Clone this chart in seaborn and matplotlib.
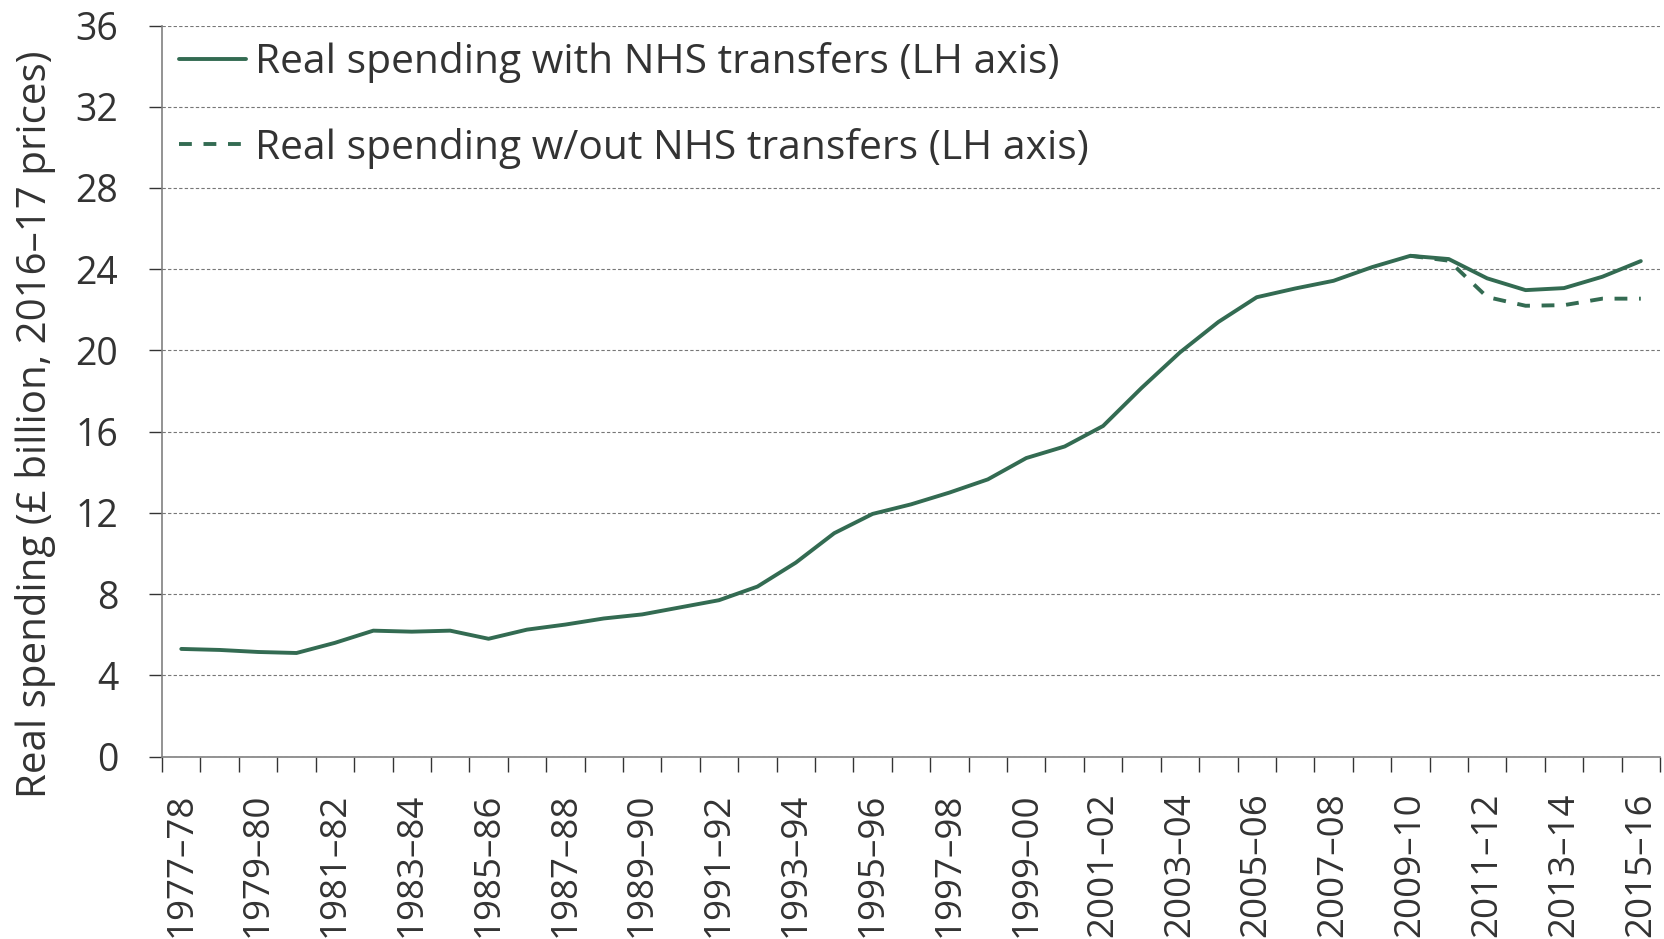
import pandas as pd
import matplotlib.pyplot as plt
import seaborn as sns

# financial years (category axis)
years = ["1977–78", "1978–79", "1979–80", "1980–81", "1981–82", "1982–83",
         "1983–84", "1984–85", "1985–86", "1986–87", "1987–88", "1988–89",
         "1989–90", "1990–91", "1991–92", "1992–93", "1993–94", "1994–95",
         "1995–96", "1996–97", "1997–98", "1998–99", "1999–00", "2000–01",
         "2001–02", "2002–03", "2003–04", "2004–05", "2005–06", "2006–07",
         "2007–08", "2008–09", "2009–10", "2010–11", "2011–12", "2012–13",
         "2013–14", "2014–15", "2015–16"]

# real spending, £ billion (2016-17 prices)
with_nhs = [5.3, 5.25, 5.15, 5.1, 5.6, 6.2, 6.15, 6.2, 5.8, 6.25,
            6.5, 6.8, 7.0, 7.35, 7.7, 8.37, 9.55, 11.0, 11.95, 12.42,
            13.0, 13.65, 14.7, 15.27, 16.28, 18.15, 19.9, 21.4, 22.62, 23.05,
            23.43, 24.1, 24.66, 24.5, 23.55, 22.97, 23.07, 23.63, 24.4]

without_years = ["2009–10", "2010–11", "2011–12", "2012–13", "2013–14",
                 "2014–15", "2015–16"]
without_nhs = [24.66, 24.42, 22.63, 22.2, 22.23, 22.55, 22.55]

yticks = [0, 4, 8, 12, 16, 20, 24, 28, 32, 36]

label_with = "Real spending with NHS transfers (LH axis)"
label_without = "Real spending w/out NHS transfers (LH axis)"

df_with = pd.DataFrame({"year": years, "value": with_nhs})
df_without = pd.DataFrame({"year": without_years, "value": without_nhs})
df_with["pos"] = range(len(years))
df_without["pos"] = [years.index(y) for y in without_years]

sns.set_style("white")
plt.rcParams["font.family"] = ["Open Sans", "DejaVu Sans"]
plt.rcParams["text.color"] = "#333333"

green = "#336b52"

fig, ax = plt.subplots(figsize=(16.64, 9.39), dpi=100)
fig.subplots_adjust(left=0.0974, right=0.9976, top=0.9728, bottom=0.1943)

sns.lineplot(data=df_with, x="pos", y="value", color=green, linewidth=2.8,
             sort=False, label=label_with, ax=ax)
sns.lineplot(data=df_without, x="pos", y="value", color=green, linewidth=2.8,
             sort=False, linestyle=(0, (3.3, 3)), label=label_without, ax=ax)

ax.set_xlim(-0.5, len(years) - 0.5)
ax.set_ylim(0, 36)
ax.set_yticks(yticks)

# labels on every other year, tick marks at category boundaries
ax.set_xticks(range(0, len(years), 2))
ax.set_xticklabels(years[::2], rotation=90)
ax.set_xticks([i - 0.5 for i in range(len(years) + 1)], minor=True)
ax.tick_params(axis="x", which="major", length=0, pad=26, labelsize=26.5,
               labelcolor="#333333")
ax.tick_params(axis="x", which="minor", length=11, width=1, color="#333333",
               direction="out", bottom=True)
ax.tick_params(axis="y", length=9.5, width=1, color="#333333", pad=22,
               labelsize=27, labelcolor="#333333", left=True)

ax.yaxis.grid(True, linestyle=(0, (3, 2)), color="#777777", linewidth=0.8)
ax.set_axisbelow(True)

for side in ["top", "right"]:
    ax.spines[side].set_visible(False)
for side in ["left", "bottom"]:
    ax.spines[side].set_color("#808080")
    ax.spines[side].set_linewidth(1.2)

ax.set_xlabel("")
ax.set_ylabel("Real spending (£ billion, 2016–17 prices)", fontsize=29,
              color="#333333")
ax.yaxis.set_label_coords(-0.0705, 0.455)

ax.legend(loc="upper left", bbox_to_anchor=(0.011, 0.977), frameon=False,
          fontsize=29.3, handlelength=1.65, handletextpad=0.23, labelspacing=1.09,
          borderpad=0, borderaxespad=0)

plt.savefig("out.png", dpi=100)
